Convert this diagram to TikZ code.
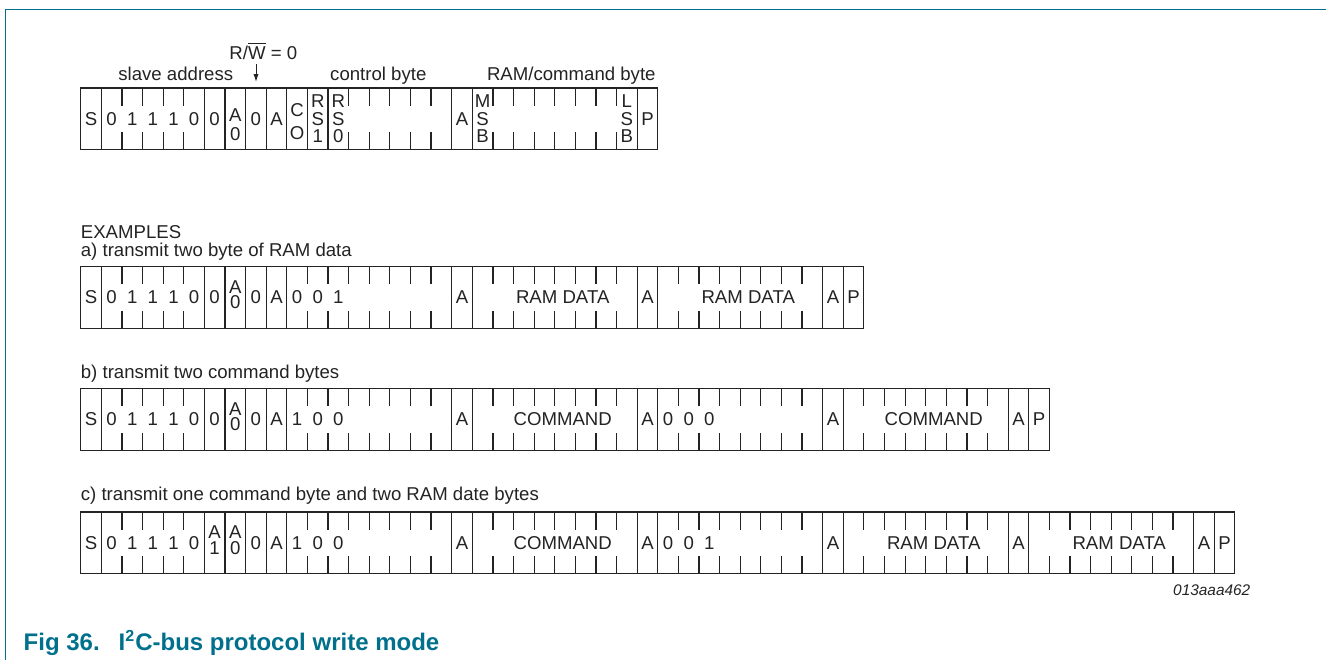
\documentclass[tikz,border=0pt]{standalone}
\usepackage{fontspec}
\setmainfont{Liberation Sans}
\usetikzlibrary{arrows.meta}
\definecolor{nxpteal}{RGB}{0,112,140}
\definecolor{ink}{RGB}{35,35,35}
\def\cellX{80.7}
\def\cellW{20.61}
\def\cellH{61.7}
\def\tickL{17.5}
\def\mh{118.85}
\def\ma{297.35}
\def\mb{419.35}
\def\mc{542.85}
\tikzset{
  cellline/.style={draw=ink, line width=0.6pt},
  lbl/.style={inner sep=0pt, anchor=center, text=ink, font=\fontsize{9.3}{11}\selectfont},
  ttl/.style={inner sep=0pt, anchor=base, text=ink, font=\fontsize{9.3}{11}\selectfont},
  capt/.style={inner sep=0pt, anchor=base west, text=nxpteal, font=\fontsize{12}{14}\selectfont\bfseries},
}
\newcommand\framerow[4]{%
  \draw[cellline] (\cellX,#1) rectangle ({\cellX+#2*\cellW},{#1+\cellH});
  \foreach \bb in {#3}{\draw[cellline] ({\cellX+\bb*\cellW},#1) -- ++(0,\cellH);}
  \foreach \bb in {#4}{\draw[cellline] ({\cellX+\bb*\cellW},#1) -- ++(0,\tickL);
                       \draw[cellline] ({\cellX+\bb*\cellW},{#1+\cellH}) -- ++(0,-\tickL);}
}
\newcommand\labs[3]{\foreach \ii/\lab in {#3}{\node[lbl] (#1\ii) at ({\cellX+(\ii+0.5)*\cellW},{#2}) {\lab};}}
\newcommand\stk[5]{\node[lbl] (#1#2#4) at ({\cellX+(#2+0.5)*\cellW},{#3}) {#5};}
\newcommand\bytelab[4]{\node[lbl] (#1) at ({\cellX+(#2+4)*\cellW+8},{#3}) {#4};}
\begin{document}
\begin{tikzpicture}[x=0.5pt,y=-0.5pt]
\useasboundingbox (0,0) rectangle (1326,660);
% frame
\draw[nxpteal, line width=0.6pt] (1326,9.5) -- (5.3,9.5) -- (5.3,660);

% ---- header row ----
\framerow{88}{28}{1,6,7,8,9,10,11,12,18,19,27}{2,3,4,5,13,14,15,16,17,20,21,22,23,24,25,26}
\labs{h}{\mh}{0/S,1/0,2/1,3/1,4/1,5/0,6/0,8/0,9/A,18/A,27/P}
\stk{h}{7}{\mh-4}{a}{A}\stk{h}{7}{\mh+15}{b}{0}
\stk{h}{10}{\mh-9}{a}{C}\stk{h}{10}{\mh+14}{b}{O}
\stk{h}{11}{\mh-17.5}{a}{R}\stk{h}{11}{\mh}{b}{S}\stk{h}{11}{\mh+17.5}{c}{1}
\stk{h}{12}{\mh-17.5}{a}{R}\stk{h}{12}{\mh}{b}{S}\stk{h}{12}{\mh+17.5}{c}{0}
\stk{h}{19}{\mh-17.5}{a}{M}\stk{h}{19}{\mh}{b}{S}\stk{h}{19}{\mh+17.5}{c}{B}
\stk{h}{26}{\mh-17.5}{a}{L}\stk{h}{26}{\mh}{b}{S}\stk{h}{26}{\mh+17.5}{c}{B}

\node[ttl] (sa) at (175.8,80.7) {slave address};
\node[ttl] (cb) at (378.3,80.7) {control byte};
\node[ttl] (rc) at (571.3,80.7) {RAM/command byte};
\node[ttl] (rw) at (263.3,59.3) {R/$\overline{\mbox{W}}$ = 0};
\coordinate (rwtip) at (256,82);
\draw[ink, line width=0.5pt, -{Latex[length=4pt,width=2.6pt]}] (rwtip |- rw.south) ++(0,4) -- (rwtip);

% ---- examples ----
\node[ttl, anchor=base west] (ex) at (80.5,238) {EXAMPLES};
\node[ttl, anchor=base west] (ea) at (80.5,256.5) {a) transmit two byte of RAM data};
\node[ttl, anchor=base west] (eb) at (80.5,378) {b) transmit two command bytes};
\node[ttl, anchor=base west] (ec) at (80.5,500) {c) transmit one command byte and two RAM date bytes};

% row a
\framerow{266.5}{38}{1,6,7,8,9,10,18,19,27,28,36,37}{2,3,4,5,11,12,13,14,15,16,17,20,21,22,23,24,25,26,29,30,31,32,33,34,35}
\labs{a}{\ma}{0/S,1/0,2/1,3/1,4/1,5/0,6/0,8/0,9/A,10/0,11/0,12/1,18/A,27/A,36/A,37/P}
\stk{a}{7}{\ma-10.5}{a}{A}\stk{a}{7}{\ma+5}{b}{0}
\bytelab{ad1}{19}{\ma}{RAM DATA}
\bytelab{ad2}{28}{\ma}{RAM DATA}

% row b
\framerow{388.5}{47}{1,6,7,8,9,10,18,19,27,28,36,37,45,46}{2,3,4,5,11,12,13,14,15,16,17,20,21,22,23,24,25,26,29,30,31,32,33,34,35,38,39,40,41,42,43,44}
\labs{b}{\mb}{0/S,1/0,2/1,3/1,4/1,5/0,6/0,8/0,9/A,10/1,11/0,12/0,18/A,27/A,28/0,29/0,30/0,36/A,45/A,46/P}
\stk{b}{7}{\mb-10.5}{a}{A}\stk{b}{7}{\mb+5}{b}{0}
\bytelab{bd1}{19}{\mb}{COMMAND}
\bytelab{bd2}{37}{\mb}{COMMAND}

% row c
\framerow{512}{56}{1,6,7,8,9,10,18,19,27,28,36,37,45,46,54,55}{2,3,4,5,11,12,13,14,15,16,17,20,21,22,23,24,25,26,29,30,31,32,33,34,35,38,39,40,41,42,43,44,47,48,49,50,51,52,53}
\labs{c}{\mc}{0/S,1/0,2/1,3/1,4/1,5/0,8/0,9/A,10/1,11/0,12/0,18/A,27/A,28/0,29/0,30/1,36/A,45/A,54/A,55/P}
\stk{c}{6}{\mc-10.5}{a}{A}\stk{c}{6}{\mc+5}{b}{1}
\stk{c}{7}{\mc-10.5}{a}{A}\stk{c}{7}{\mc+5}{b}{0}
\bytelab{cd1}{19}{\mc}{COMMAND}
\bytelab{cd2}{37}{\mc}{RAM DATA}
\bytelab{cd3}{46}{\mc}{RAM DATA}

\node[inner sep=0pt, anchor=base east, text=ink, font=\fontsize{7.7}{9}\selectfont\itshape] (id) at (1250.7,595) {013aaa462};

% caption
\node[capt] (fig) at (23.3,650) {Fig 36.};
\node[capt] (figt) at (118.3,650) {I\textsuperscript{2}C-bus protocol write mode};
\end{tikzpicture}
\end{document}
